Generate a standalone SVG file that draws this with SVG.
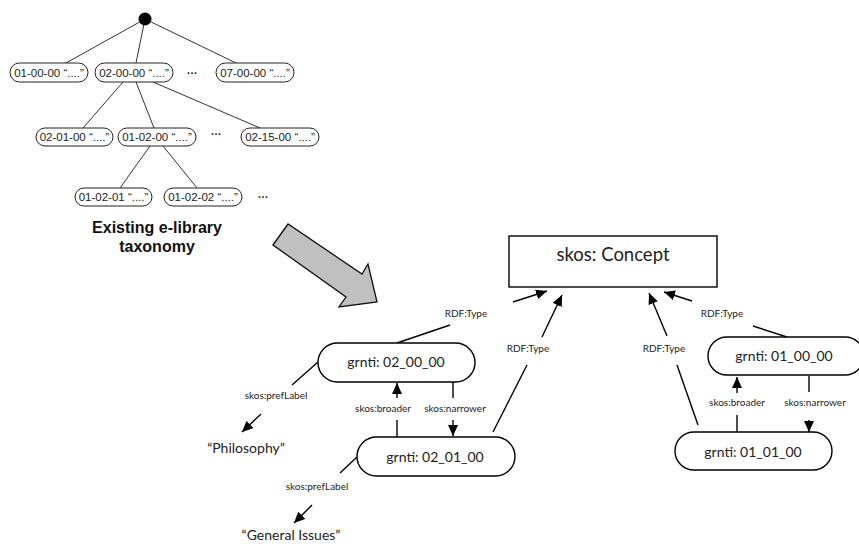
<svg xmlns="http://www.w3.org/2000/svg" width="859" height="544" viewBox="0 0 859 544">
<defs>
<style>
.tl{stroke:#333;stroke-width:1;fill:none}
.pill{fill:#fff;stroke:#222;stroke-width:1}
.tt{font-family:"Liberation Sans",Arial,sans-serif;font-size:11.5px;fill:#222;text-anchor:middle}
.dots{font-family:"Liberation Sans",Arial,sans-serif;font-size:11px;font-weight:bold;fill:#222;text-anchor:middle}
.title{font-family:"Liberation Sans",Arial,sans-serif;font-size:16px;font-weight:bold;fill:#111;text-anchor:middle}
.cl{stroke:#000;stroke-width:1.4;fill:none}
.ar{stroke:#000;stroke-width:1.4;fill:none;marker-end:url(#ah)}
.node{fill:#fff;stroke:#000;stroke-width:1.4}
.big{font-family:Lato,"Noto Sans",sans-serif;font-size:14px;fill:#222;text-anchor:middle}
.lbl{font-family:Lato,"Noto Sans",sans-serif;font-size:10px;fill:#222;text-anchor:middle}
.lit{font-family:Lato,"Noto Sans",sans-serif;font-size:14px;fill:#222;text-anchor:middle}
</style>
<marker id="ah" markerUnits="userSpaceOnUse" markerWidth="12" markerHeight="10" refX="11" refY="5" orient="auto" viewBox="0 0 12 10">
<path d="M0,0 L11,5 L0,10 z" fill="#000"/>
</marker>
</defs>
<rect width="859" height="544" fill="#fff"/>

<g id="tree-connectors">
<line class="tl" x1="145" y1="19" x2="66" y2="63"/>
<line class="tl" x1="145" y1="19" x2="136" y2="63"/>
<line class="tl" x1="145" y1="19" x2="236" y2="63"/>
<line class="tl" x1="123" y1="82" x2="83" y2="128"/>
<line class="tl" x1="136" y1="82" x2="154" y2="128"/>
<line class="tl" x1="153" y1="82" x2="260" y2="128"/>
<line class="tl" x1="150" y1="146" x2="120" y2="188"/>
<line class="tl" x1="163" y1="146" x2="197" y2="188"/>
</g>

<g id="root"><circle cx="145" cy="19" r="6.5" fill="#000"/></g>

<g id="t-01-00-00"><rect class="pill" x="10" y="63" width="78" height="19" rx="9.5"/><text class="tt" x="49" y="76.5">01-00-00 “....”</text></g>
<g id="t-02-00-00"><rect class="pill" x="95" y="63" width="78" height="19" rx="9.5"/><text class="tt" x="134" y="76.5">02-00-00 “....”</text></g>
<text class="dots" x="192" y="74">…</text>
<g id="t-07-00-00"><rect class="pill" x="216" y="63" width="78" height="19" rx="9.5"/><text class="tt" x="255" y="76.5">07-00-00 “....”</text></g>

<g id="t-02-01-00"><rect class="pill" x="36" y="128" width="77" height="18" rx="9"/><text class="tt" x="74.5" y="141">02-01-00 “....”</text></g>
<g id="t-01-02-00"><rect class="pill" x="118" y="128" width="78" height="18" rx="9"/><text class="tt" x="157" y="141">01-02-00 “....”</text></g>
<text class="dots" x="216" y="135">…</text>
<g id="t-02-15-00"><rect class="pill" x="241" y="128" width="78" height="18" rx="9"/><text class="tt" x="280" y="141">02-15-00 “....”</text></g>

<g id="t-01-02-01"><rect class="pill" x="75" y="188" width="77" height="18" rx="9"/><text class="tt" x="113.5" y="201">01-02-01 “....”</text></g>
<g id="t-01-02-02"><rect class="pill" x="164" y="188" width="78" height="18" rx="9"/><text class="tt" x="203" y="201">01-02-02 “....”</text></g>
<text class="dots" x="263" y="198">…</text>

<g id="title"><text class="title" x="157" y="233">Existing e-library</text><text class="title" x="157" y="252">taxonomy</text></g>

<g id="big-arrow"><polygon points="273,245 288,224 362,274 368,264 377,302 339,307 346,297" fill="#c0c0c0" stroke="#111" stroke-width="1.3" stroke-linejoin="miter"/></g>

<g id="connectors">
<line class="cl" x1="397" y1="343" x2="450" y2="325"/>
<text class="lbl" x="466" y="317">RDF:Type</text>
<line class="ar" x1="513" y1="302" x2="547" y2="291"/>

<line class="cl" x1="493" y1="432" x2="527" y2="365"/>
<text class="lbl" x="528" y="352">RDF:Type</text>
<line class="ar" x1="542" y1="337" x2="562" y2="295"/>

<line class="cl" x1="318" y1="362" x2="292" y2="385"/>
<text class="lbl" x="276" y="399">skos:prefLabel</text>
<line class="ar" x1="261" y1="414" x2="242" y2="432"/>

<line class="cl" x1="397" y1="437" x2="397" y2="420"/>
<text class="lbl" x="383" y="412">skos:broader</text>
<line class="ar" x1="397" y1="398" x2="397" y2="383"/>

<line class="cl" x1="453" y1="382" x2="453" y2="398"/>
<text class="lbl" x="455" y="412">skos:narrower</text>
<line class="ar" x1="453" y1="420" x2="453" y2="436"/>

<line class="cl" x1="357" y1="457" x2="340" y2="473"/>
<text class="lbl" x="317" y="490">skos:prefLabel</text>
<line class="ar" x1="312" y1="505" x2="294" y2="523"/>

<line class="cl" x1="698" y1="425" x2="677" y2="365"/>
<text class="lbl" x="664" y="352">RDF:Type</text>
<line class="ar" x1="667" y1="336" x2="649" y2="293"/>

<line class="cl" x1="787" y1="337" x2="753" y2="326"/>
<text class="lbl" x="722" y="317">RDF:Type</text>
<line class="ar" x1="692" y1="301" x2="664" y2="292"/>

<line class="cl" x1="737" y1="432" x2="737" y2="415"/>
<text class="lbl" x="737" y="406">skos:broader</text>
<line class="ar" x1="737" y1="393" x2="737" y2="377"/>

<line class="cl" x1="809" y1="376" x2="809" y2="392"/>
<text class="lbl" x="815" y="406">skos:narrower</text>
<line class="ar" x1="809" y1="420" x2="809" y2="432"/>
</g>

<g id="skos-concept"><rect class="node" x="509" y="236" width="208" height="51"/><text class="big" x="613" y="261" style="font-size:18.5px">skos: Concept</text></g>
<g id="grnti-02-00-00"><rect class="node" x="318" y="343" width="157" height="39" rx="19.5"/><text class="big" x="396" y="367">grnti: 02_00_00</text></g>
<g id="grnti-02-01-00"><rect class="node" x="357" y="437" width="158" height="39" rx="19.5"/><text class="big" x="435" y="462">grnti: 02_01_00</text></g>
<g id="grnti-01-00-00"><rect class="node" x="708" y="337" width="156" height="38" rx="19"/><text class="big" x="784" y="361">grnti: 01_00_00</text></g>
<g id="grnti-01-01-00"><rect class="node" x="675" y="432" width="157" height="38" rx="19"/><text class="big" x="753" y="457">grnti: 01_01_00</text></g>

<g id="literals">
<text class="lit" x="246" y="453">“Philosophy”</text>
<text class="lit" x="291" y="540">“General Issues”</text>
</g>
</svg>
